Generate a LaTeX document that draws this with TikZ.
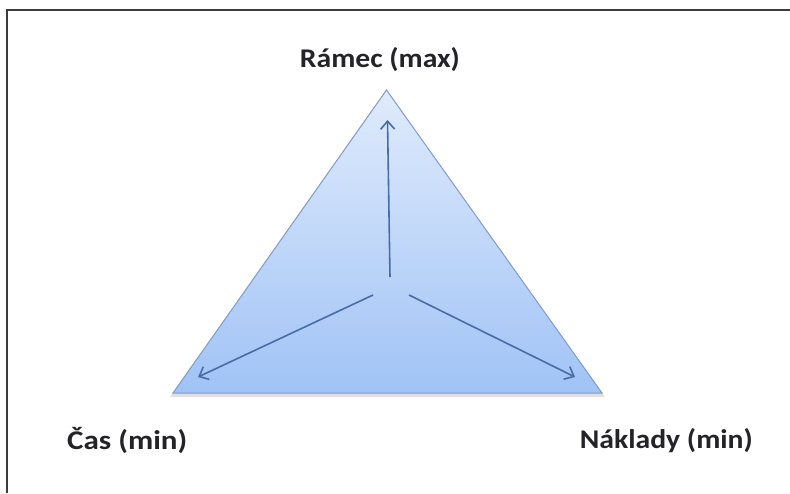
\documentclass[tikz,border=0pt]{standalone}
\usepackage{fontspec}
\setmainfont{Carlito}
\usetikzlibrary{arrows.meta}
\definecolor{edgeblue}{RGB}{125,155,205}
\definecolor{arrowblue}{RGB}{72,108,165}
\definecolor{topblue}{RGB}{224,235,252}
\definecolor{botblue}{RGB}{160,195,246}
\definecolor{framegray}{RGB}{60,60,60}
\definecolor{textgray}{RGB}{35,35,40}
\tikzset{
  lbl/.style={font=\fontsize{27}{32}\selectfont\bfseries, text=textgray, inner sep=0pt, anchor=base},
  vec/.style={draw=arrowblue, line width=1.6pt, -{Straight Barb[length=8pt,width=14pt,line width=1.6pt]}},
  tri/.style={draw=edgeblue, line width=1pt, top color=topblue, bottom color=botblue}
}
\begin{document}
\begin{tikzpicture}[x=1pt,y=-1pt]
\useasboundingbox (0,0) rectangle (790,493);
\fill[white] (0,0) rectangle (790,493);
% frame (only top and left visible)
\coordinate (fbl) at (7,493);
\coordinate (ftl) at (7,9.5);
\coordinate (ftr) at (790,9.5);
\draw[framegray, line width=2pt] (fbl) -- (ftl) -- (ftr);
% triangle corners
\coordinate (A) at (386.5,90);
\coordinate (B) at (173,393);
\coordinate (C) at (602,393);
% shadow
\fill[black, opacity=0.12] (386.5,93) -- (170,397) -- (605,397) -- cycle;
\path[tri] (A) -- (B) -- (C) -- cycle;
% arrows
\coordinate (su) at (390,277);
\coordinate (tu) at (387.5,120);
\coordinate (sl) at (373,295);
\coordinate (tl) at (198,377);
\coordinate (sr) at (409,295);
\coordinate (tr) at (575,377);
\draw[vec] (su) -- (tu);
\draw[vec] (sl) -- (tl);
\draw[vec] (sr) -- (tr);
% labels
\node[lbl] (ramec) at (380,67) {\resizebox{160pt}{\height}{Rámec (max)}};
\node[lbl, anchor=base west] (cas) at (67,449) {\resizebox{120pt}{\height}{Čas (min)}};
\node[lbl, anchor=base east] (naklady) at (753,448) {\resizebox{173pt}{\height}{Náklady (min)}};
\end{tikzpicture}
\end{document}
